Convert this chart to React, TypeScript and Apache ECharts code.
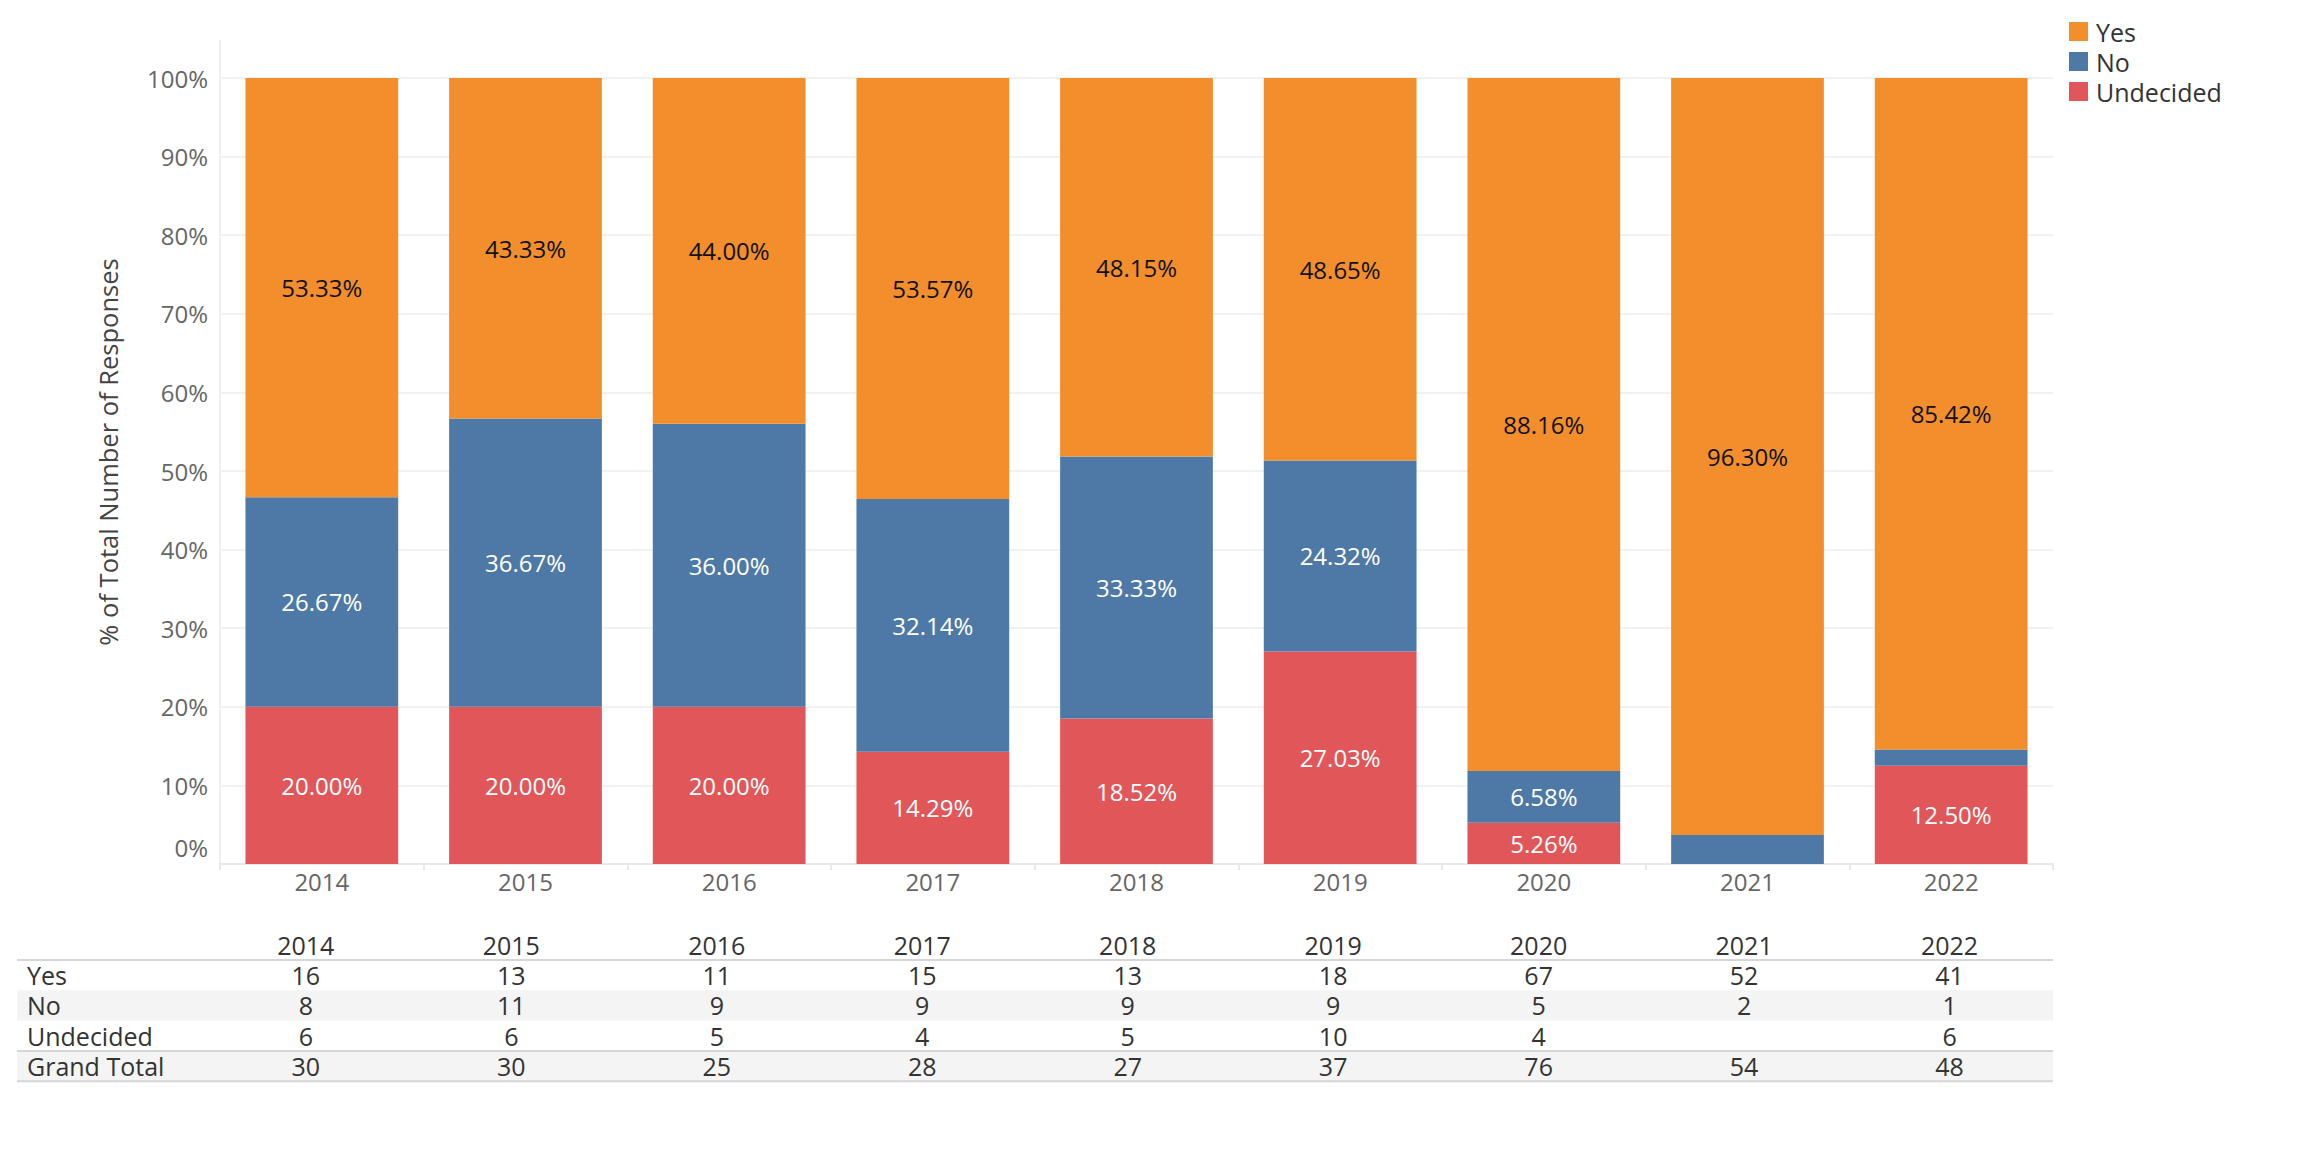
import React, { useEffect, useRef } from "react";
import * as echarts from "echarts";

const years = ["2014", "2015", "2016", "2017", "2018", "2019", "2020", "2021", "2022"];
const legendNames = ["Yes", "No", "Undecided"];
const yesCounts = [16, 13, 11, 15, 13, 18, 67, 52, 41];
const noCounts = [8, 11, 9, 9, 9, 9, 5, 2, 1];
const undecidedCounts: (number | null)[] = [6, 6, 5, 4, 5, 10, 4, null, 6];
const grandTotals = [30, 30, 25, 28, 27, 37, 76, 54, 48];
const yesPct = [53.33, 43.33, 44.0, 53.57, 48.15, 48.65, 88.16, 96.3, 85.42];
const noPct = [26.67, 36.67, 36.0, 32.14, 33.33, 24.32, 6.58, 3.7, 2.08];
const undecidedPct: (number | null)[] = [20.0, 20.0, 20.0, 14.29, 18.52, 27.03, 5.26, null, 12.5];
const tableRowLabels = ["Yes", "No", "Undecided", "Grand Total"];

const FONT = "'Open Sans', 'Noto Sans', sans-serif";
const COLORS = { Yes: "#F28E2B", No: "#4E79A7", Undecided: "#E15759" };

function mkSeries(name: string, data: (number | null)[], color: string, labelColor: string) {
  return {
    name,
    type: "bar",
    stack: "total",
    data,
    barCategoryGap: "25%",
    itemStyle: { color },
    emphasis: { disabled: true },
    label: {
      show: true,
      position: "inside",
      color: labelColor,
      fontSize: 24,
      fontFamily: FONT,
      formatter: (p: any) => (p.value != null && p.value >= 4 ? Number(p.value).toFixed(2) + "%" : ""),
    },
  };
}

export default function App() {
  const ref = useRef<HTMLDivElement>(null);
  useEffect(() => {
    document.body.style.margin = "0";
    document.body.style.overflow = "hidden";
    const chart = echarts.init(ref.current!, null, { renderer: "svg" });
    const gridLeft = 220;
    const gridRight = 2053;
    const option: any = {
      animation: false,
      textStyle: { fontFamily: FONT },
      grid: { left: gridLeft, right: 2298 - gridRight, top: 78, bottom: 1172 - 864, containLabel: false },
      legend: {
        data: legendNames,
        orient: "vertical",
        left: 2064,
        top: 14,
        icon: "rect",
        itemWidth: 19,
        itemHeight: 19,
        itemGap: 5,
        selectedMode: false,
        textStyle: { fontSize: 25, color: "#333", fontFamily: FONT, lineHeight: 22, padding: [0, 0, 0, 3] },
      },
      xAxis: {
        type: "category",
        data: years,
        axisLine: { show: true, lineStyle: { color: "#e8e8e8", width: 2 } },
        axisTick: { show: true, alignWithLabel: false, length: 6, lineStyle: { color: "#e8e8e8", width: 2 } },
        axisLabel: { color: "#666", fontSize: 24, fontFamily: FONT, margin: 5 },
      },
      yAxis: {
        type: "value",
        min: 0,
        max: 100,
        interval: 10,
        name: "% of Total Number of Responses",
        nameLocation: "middle",
        nameGap: 99,
        nameRotate: 90,
        nameTextStyle: { fontSize: 25.5, color: "#444", fontFamily: FONT, padding: [0, 0, 0, 38] },
        axisLine: { show: true, lineStyle: { color: "#efefef", width: 2 } },
        axisTick: { show: false },
        splitLine: { show: true, lineStyle: { color: "#f1f1f1", width: 2 } },
        axisLabel: {
          color: "#666",
          fontSize: 24,
          fontFamily: FONT,
          margin: 12,
          formatter: (v: number) => (v === 0 ? "{z|0%}" : v + "%"),
          rich: { z: { fontSize: 24, color: "#666", fontFamily: FONT, padding: [0, 0, 34, 0] } },
        },
      },
      series: [
        mkSeries("Undecided", undecidedPct, COLORS.Undecided, "#ffffff"),
        mkSeries("No", noPct, COLORS.No, "#ffffff"),
        mkSeries("Yes", yesPct, COLORS.Yes, "#111111"),
      ],
    };
    chart.setOption(option);

    const centers = years.map((y) => chart.convertToPixel({ xAxisIndex: 0 }, y) as number);
    const top100 = chart.convertToPixel({ yAxisIndex: 0 }, 100) as number;
    const tableLeft = 17;
    const headerY = 945;
    const rowTop = 960;
    const rowH = 30.3;
    const colX = (i: number) => centers[i] - 16 + i * 1.8;
    const textStyle = (x: number, y: number, text: string, align: string) => ({
      type: "text",
      x,
      y,
      silent: true,
      style: { text, fontSize: 25, fontFamily: FONT, fill: "#333", align, verticalAlign: "middle" },
    });
    const rows = [yesCounts, noCounts, undecidedCounts, grandTotals];
    const elements: any[] = [];
    elements.push({
      type: "line",
      silent: true,
      shape: { x1: gridLeft, y1: 40, x2: gridLeft, y2: top100 },
      style: { stroke: "#efefef", lineWidth: 2 },
    });
    [1, 3].forEach((r) => {
      elements.push({
        type: "rect",
        silent: true,
        shape: { x: tableLeft, y: rowTop + r * rowH, width: gridRight - tableLeft, height: rowH },
        style: { fill: "#f4f4f4" },
      });
    });
    [rowTop, rowTop + 3 * rowH, rowTop + 4 * rowH].forEach((y) => {
      elements.push({
        type: "line",
        silent: true,
        shape: { x1: tableLeft, y1: y, x2: gridRight, y2: y },
        style: { stroke: "#d6d6d6", lineWidth: 2 },
      });
    });
    years.forEach((y, i) => elements.push(textStyle(colX(i), headerY, y, "center")));
    rows.forEach((vals, r) => {
      const cy = rowTop + r * rowH + rowH / 2;
      elements.push(textStyle(tableLeft + 10, cy, tableRowLabels[r], "left"));
      vals.forEach((v, i) => {
        if (v != null) elements.push(textStyle(colX(i), cy, String(v), "center"));
      });
    });
    chart.setOption({ graphic: { elements } });
    return () => chart.dispose();
  }, []);
  return <div ref={ref} style={{ width: 2298, height: 1172 }} />;
}
